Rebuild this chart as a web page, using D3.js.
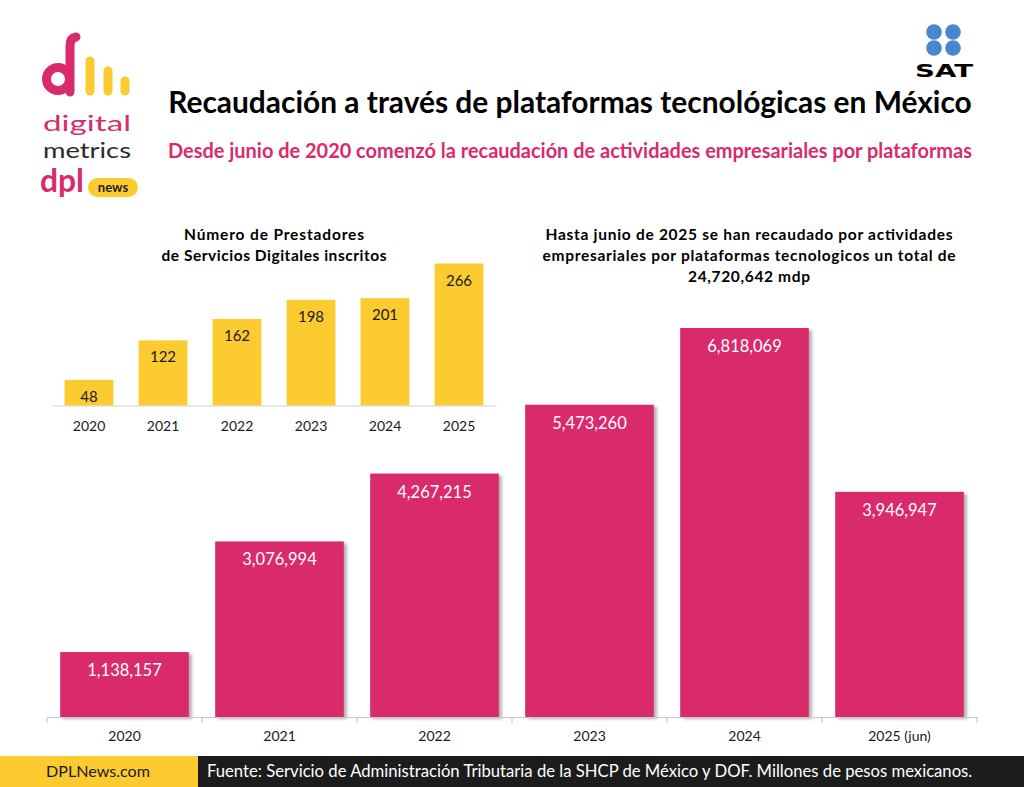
<!DOCTYPE html>
<html>
<head>
<meta charset="utf-8">
<script src="https://cdn.jsdelivr.net/npm/d3@7"></script>
<style>
  html, body { margin: 0; padding: 0; background: #fff; }
  svg { display: block; font-family: Lato, "Open Sans", sans-serif; }
</style>
</head>
<body>
<svg id="chart" width="1024" height="787"></svg>
<script>
// ---- Data ----
const mainCategories = ["2020", "2021", "2022", "2023", "2024", "2025 (jun)"];
const mainValues = [1138157, 3076994, 4267215, 5473260, 6818069, 3946947];
const smallCategories = ["2020", "2021", "2022", "2023", "2024", "2025"];
const smallValues = [48, 122, 162, 198, 201, 266];

const PINK = "#D92B6C";
const YELLOW = "#FCCB2F";
const DARK = "#1A1A1A";

const svg = d3.select("#chart");

// drop shadow
const defs = svg.append("defs");
const f = defs.append("filter").attr("id", "shadow").attr("x", "-10%").attr("y", "-10%").attr("width", "130%").attr("height", "130%");
f.append("feDropShadow").attr("dx", 3).attr("dy", 2).attr("stdDeviation", 1.5).attr("flood-color", "#000").attr("flood-opacity", 0.3);

// helper: fit text to a width by adjusting font size
function fit(sel, w) {
  const n = sel.node();
  const cur = n.getComputedTextLength();
  const fs = parseFloat(sel.attr("font-size"));
  sel.attr("font-size", (fs * w / cur).toFixed(2));
  return sel;
}
// helper: stretch letter spacing to a width
function spread(sel, w) {
  sel.attr("textLength", w).attr("lengthAdjust", "spacing");
  return sel;
}

// ---- Titles ----
fit(svg.append("text").attr("x", 570).attr("y", 113).attr("text-anchor", "middle")
  .attr("font-size", 25).attr("font-weight", 700).attr("fill", "#000")
  .text("Recaudación a través de plataformas tecnológicas en México"), 804);

fit(svg.append("text").attr("x", 570).attr("y", 158).attr("text-anchor", "middle")
  .attr("font-size", 17).attr("font-weight", 700).attr("fill", PINK)
  .text("Desde junio de 2020 comenzó la recaudación de actividades empresariales por plataformas"), 804);

// ---- Main chart ----
const baseY = 717;
const x = d3.scaleBand().domain(mainCategories).range([47, 977]).paddingInner(0.17).paddingOuter(0.085);
const y = d3.scaleLinear().domain([0, 7000000]).range([baseY, baseY - 7000000 * 389 / 6818069]);

const mg = svg.append("g");
mg.selectAll("rect.bar").data(mainValues).join("rect")
  .attr("class", "bar")
  .attr("x", (d, i) => x(mainCategories[i]))
  .attr("y", d => y(d))
  .attr("width", x.bandwidth())
  .attr("height", d => baseY - y(d))
  .attr("fill", PINK)
  .attr("filter", "url(#shadow)");

mg.selectAll("text.val").data(mainValues).join("text")
  .attr("class", "val")
  .attr("x", (d, i) => x(mainCategories[i]) + x.bandwidth() / 2)
  .attr("y", d => y(d) + 24)
  .attr("text-anchor", "middle")
  .attr("font-size", 16.5)
  .attr("fill", "#fff")
  .text(d => d3.format(",")(d));

const xAxis = mg.append("g").attr("transform", `translate(0,${baseY})`)
  .call(d3.axisBottom(x).tickSize(0).tickPadding(14));
xAxis.select(".domain").attr("stroke", "#c8c8c8").attr("stroke-width", 1.2);
xAxis.selectAll("text").attr("font-size", 14).attr("fill", DARK).attr("font-family", "Lato, sans-serif");
// category boundary ticks
const bounds = mainCategories.map(c => x(c) - x.step() * x.paddingInner() / 2).concat([x.range()[1]]);
bounds[0] = x.range()[0];
xAxis.selectAll("line.bt").data(bounds).join("line").attr("class", "bt")
  .attr("x1", d => d).attr("x2", d => d).attr("y1", 0).attr("y2", 6)
  .attr("stroke", "#c8c8c8").attr("stroke-width", 1.2);

// ---- Small chart ----
const sBase = 405.5;
const xs = d3.scaleBand().domain(smallCategories).range([52, 496]).paddingInner(0.34).paddingOuter(0.17);
const ys = d3.scaleLinear().domain([0, 266]).range([sBase, sBase - 142]);
const sg = svg.append("g");
sg.selectAll("rect").data(smallValues).join("rect")
  .attr("x", (d, i) => xs(smallCategories[i]))
  .attr("y", d => ys(d))
  .attr("width", xs.bandwidth())
  .attr("height", d => sBase - ys(d))
  .attr("fill", YELLOW);
sg.selectAll("text.val").data(smallValues).join("text")
  .attr("class", "val")
  .attr("x", (d, i) => xs(smallCategories[i]) + xs.bandwidth() / 2)
  .attr("y", d => ys(d) + 22)
  .attr("text-anchor", "middle")
  .attr("font-size", 15)
  .attr("fill", DARK)
  .text(d => d);
const sAxis = sg.append("g").attr("transform", `translate(0,${sBase})`)
  .call(d3.axisBottom(xs).tickSize(0).tickPadding(16));
sAxis.select(".domain").attr("stroke", "#d0d0d0").attr("stroke-width", 1);
sAxis.selectAll("text").attr("font-size", 14).attr("fill", DARK).attr("font-family", "Lato, sans-serif");

// small chart title
const st = ["Número de Prestadores", "de Servicios Digitales inscritos"];
const stW = [180, 225];
st.forEach((t, i) => {
  spread(svg.append("text").attr("x", 274).attr("y", 240 + i * 21).attr("text-anchor", "middle")
    .attr("font-size", 15.5).attr("font-weight", 700).attr("fill", "#000").text(t), stW[i]);
});
// right chart title
const rt = ["Hasta junio de 2025 se han recaudado por actividades",
            "empresariales por plataformas tecnologicos un total de",
            "24,720,642 mdp"];
const rtW = [407, 413, 122];
rt.forEach((t, i) => {
  spread(svg.append("text").attr("x", 749).attr("y", 240 + i * 21).attr("text-anchor", "middle")
    .attr("font-size", 15.5).attr("font-weight", 700).attr("fill", "#000").text(t), rtW[i]);
});

// ---- Footer ----
svg.append("rect").attr("x", 0).attr("y", 756).attr("width", 198).attr("height", 31).attr("fill", YELLOW);
svg.append("rect").attr("x", 198).attr("y", 756).attr("width", 826).attr("height", 31).attr("fill", "#1C1C1C");
fit(svg.append("text").attr("x", 98).attr("y", 777).attr("text-anchor", "middle")
  .attr("font-size", 15).attr("fill", DARK).text("DPLNews.com"), 104);
fit(svg.append("text").attr("x", 207).attr("y", 777)
  .attr("font-size", 15).attr("fill", "#fff")
  .text("Fuente: Servicio de Administración Tributaria de la SHCP de México y DOF. Millones de pesos mexicanos."), 766);

// ---- SAT logo ----
const sat = svg.append("g");
[[934, 32], [953, 32], [934, 48], [953, 48]].forEach(([cx, cy]) => {
  sat.append("circle").attr("cx", cx).attr("cy", cy).attr("r", 7.8).attr("fill", "#4A86CF");
});
sat.append("text").attr("x", 915).attr("y", 77).attr("font-size", 18).attr("font-weight", 900)
  .attr("font-family", "'DejaVu Sans', sans-serif").attr("fill", "#000")
  .attr("textLength", 58).attr("lengthAdjust", "spacingAndGlyphs").text("SAT");

// ---- digital metrics logo ----
const lg = svg.append("g");
// big "d"
lg.append("circle").attr("cx", 58).attr("cy", 79).attr("r", 11.5).attr("fill", "none").attr("stroke", PINK).attr("stroke-width", 9);
lg.append("path").attr("d", "M70,92 L70,46 Q70,38 76,37").attr("fill", "none").attr("stroke", PINK)
  .attr("stroke-width", 9).attr("stroke-linecap", "round");
// bars
[[90, 61], [108, 71], [125, 81]].forEach(([bx, top]) => {
  lg.append("line").attr("x1", bx).attr("x2", bx).attr("y1", top).attr("y2", 91)
    .attr("stroke", YELLOW).attr("stroke-width", 9).attr("stroke-linecap", "round");
});
lg.append("text").attr("x", 43).attr("y", 131).attr("font-size", 22).attr("font-weight", 400)
  .attr("fill", PINK).attr("textLength", 88).attr("lengthAdjust", "spacingAndGlyphs").text("digital");
lg.append("text").attr("x", 43).attr("y", 158).attr("font-size", 22).attr("font-weight", 400)
  .attr("fill", "#2a2a2a").attr("textLength", 88).attr("lengthAdjust", "spacingAndGlyphs").text("metrics");
fit(lg.append("text").attr("x", 40).attr("y", 192).attr("font-size", 30).attr("font-weight", 700)
  .attr("fill", PINK).text("dpl"), 44);
lg.append("rect").attr("x", 88).attr("y", 178).attr("width", 50).attr("height", 19).attr("rx", 9.5).attr("fill", YELLOW);
lg.append("text").attr("x", 113).attr("y", 192).attr("text-anchor", "middle").attr("font-size", 13)
  .attr("font-weight", 700).attr("fill", "#222").text("news");
</script>
</body>
</html>
